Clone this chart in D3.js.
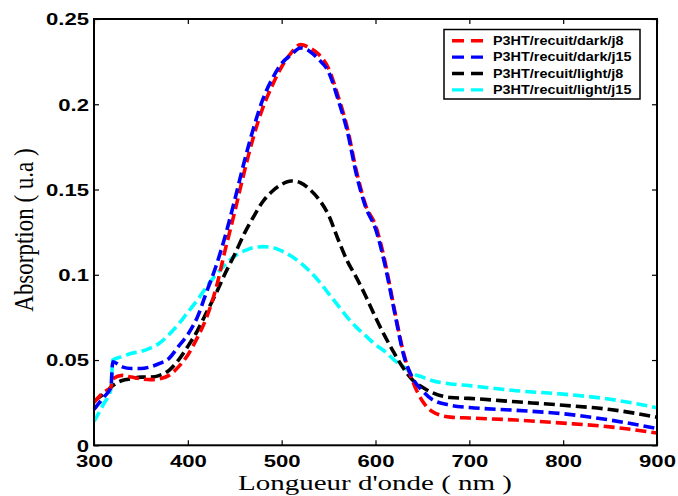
<!DOCTYPE html>
<html>
<head>
<meta charset="utf-8">
<script src="https://cdn.jsdelivr.net/npm/d3@7"></script>
<style>
  html, body { margin: 0; padding: 0; background: #fff; }
  svg { display: block; }
</style>
</head>
<body>
<svg id="chart" width="678" height="496"></svg>
<script>
// Wavelengths (nm) shared by all four spectra
const wavelength = [300, 310, 318, 320, 330, 340, 350, 360, 370, 380, 390, 400, 410, 420, 430, 440, 450, 460, 470, 480, 490, 500, 510, 520, 530, 540, 550, 560, 570, 580, 590, 600, 610, 620, 630, 640, 650, 660, 680, 700, 750, 800, 850, 900];

// Absorbance of each sample (u.a)
const darkJ8 = [0.025, 0.031, 0.034, 0.039, 0.041, 0.040, 0.039, 0.0385, 0.039, 0.041, 0.046, 0.053, 0.063, 0.075, 0.092, 0.115, 0.137, 0.160, 0.181, 0.198, 0.211, 0.222, 0.230, 0.235, 0.233, 0.229, 0.221, 0.205, 0.186, 0.160, 0.140, 0.129, 0.108, 0.080, 0.054, 0.037, 0.026, 0.020, 0.0165, 0.0160, 0.0148, 0.0130, 0.0108, 0.0072];
const darkJ15 = [0.021, 0.028, 0.034, 0.049, 0.046, 0.045, 0.045, 0.046, 0.048, 0.051, 0.058, 0.065, 0.075, 0.090, 0.105, 0.123, 0.144, 0.166, 0.186, 0.203, 0.215, 0.224, 0.229, 0.233, 0.231, 0.226, 0.219, 0.203, 0.184, 0.158, 0.139, 0.127, 0.106, 0.079, 0.053, 0.039, 0.032, 0.027, 0.0235, 0.0222, 0.0205, 0.0185, 0.0148, 0.0098];
const lightJ8 = [0.026, 0.030, 0.034, 0.035, 0.038, 0.039, 0.040, 0.040, 0.041, 0.044, 0.050, 0.058, 0.067, 0.078, 0.089, 0.101, 0.112, 0.124, 0.134, 0.143, 0.149, 0.153, 0.155, 0.154, 0.150, 0.144, 0.135, 0.121, 0.108, 0.098, 0.087, 0.075, 0.064, 0.054, 0.045, 0.038, 0.034, 0.031, 0.028, 0.0275, 0.0255, 0.0235, 0.0210, 0.0165];
const lightJ15 = [0.014, 0.024, 0.033, 0.050, 0.052, 0.054, 0.055, 0.057, 0.060, 0.065, 0.071, 0.078, 0.085, 0.093, 0.100, 0.106, 0.111, 0.114, 0.116, 0.1165, 0.116, 0.114, 0.111, 0.107, 0.102, 0.096, 0.089, 0.082, 0.075, 0.069, 0.064, 0.059, 0.055, 0.050, 0.046, 0.042, 0.040, 0.038, 0.036, 0.035, 0.032, 0.030, 0.027, 0.022];

const seriesNames = ["P3HT/recuit/dark/j8", "P3HT/recuit/dark/j15", "P3HT/recuit/light/j8", "P3HT/recuit/light/j15"];
const seriesColors = ["#ff0000", "#0000ff", "#000000", "#00ffff"];
const seriesValues = [darkJ8, darkJ15, lightJ8, lightJ15];

const xTicks = [300, 400, 500, 600, 700, 800, 900];
const yTicks = [0, 0.05, 0.1, 0.15, 0.2, 0.25];
const yTickLabels = ["0", "0.05", "0.1", "0.15", "0.2", "0.25"];

const plot = { left: 94, right: 657, top: 19, bottom: 445.3 };
const tickFont = "'Liberation Sans', Arial, sans-serif";
const textStretch = 1.38;

const svg = d3.select("#chart");

const x = d3.scaleLinear().domain([300, 900]).range([plot.left, plot.right]);
const y = d3.scaleLinear().domain([0, 0.25]).range([plot.bottom, plot.top]);

// Spectra
const line = d3.line()
  .x(d => x(d[0]))
  .y(d => y(d[1]))
  .curve(d3.curveMonotoneX);

const drawOrder = [3, 2, 0, 1];
drawOrder.forEach(i => {
  const pts = wavelength.map((w, k) => [w, seriesValues[i][k]]);
  svg.append("path")
    .datum(pts)
    .attr("d", line)
    .attr("fill", "none")
    .attr("stroke", seriesColors[i])
    .attr("stroke-width", 3.6)
    .attr("stroke-dasharray", "11,5");
});

// Axes box with inward ticks on all four sides
const tickLen = 5;
const styleAxis = g => {
  g.select(".domain").remove();
  g.selectAll(".tick line").attr("stroke", "#000").attr("stroke-width", 1.2);
};

const xBottom = svg.append("g")
  .attr("transform", `translate(0,${plot.bottom})`)
  .call(d3.axisBottom(x).tickValues(xTicks).tickSize(-tickLen).tickFormat(d3.format("d")));
styleAxis(xBottom);
xBottom.selectAll(".tick text")
  .attr("y", 21.5).attr("dy", 0)
  .attr("fill", "#000")
  .style("font-family", tickFont).style("font-weight", "bold").style("font-size", "16px")
  .attr("transform", `scale(${textStretch},1)`);

const xTop = svg.append("g")
  .attr("transform", `translate(0,${plot.top})`)
  .call(d3.axisTop(x).tickValues(xTicks).tickSize(-tickLen).tickFormat(""));
styleAxis(xTop);

const yLeft = svg.append("g")
  .attr("transform", `translate(${plot.left},0)`)
  .call(d3.axisLeft(y).tickValues(yTicks).tickSize(-tickLen).tickFormat((d, i) => yTickLabels[i]));
styleAxis(yLeft);
yLeft.selectAll(".tick text")
  .attr("x", -5 / textStretch).attr("dy", "0.36em")
  .attr("fill", "#000")
  .style("font-family", tickFont).style("font-weight", "bold").style("font-size", "16px")
  .attr("transform", `scale(${textStretch},1)`);

const yRight = svg.append("g")
  .attr("transform", `translate(${plot.right},0)`)
  .call(d3.axisRight(y).tickValues(yTicks).tickSize(-tickLen).tickFormat(""));
styleAxis(yRight);

svg.append("rect")
  .attr("x", plot.left).attr("y", plot.top)
  .attr("width", plot.right - plot.left).attr("height", plot.bottom - plot.top)
  .attr("fill", "none").attr("stroke", "#000").attr("stroke-width", 2);

// Axis titles
svg.append("text")
  .attr("transform", `translate(375,490) scale(1.38,1)`)
  .attr("text-anchor", "middle")
  .style("font-family", "'Liberation Serif', 'Times New Roman', serif")
  .style("font-size", "21px")
  .text("Longueur d'onde ( nm )");

svg.append("text")
  .attr("transform", `translate(33,230) rotate(-90) scale(1,1.2)`)
  .attr("text-anchor", "middle")
  .style("font-family", "'Liberation Serif', 'Times New Roman', serif")
  .style("font-size", "23px")
  .text("Absorption ( u.a )");

// Legend
const legend = svg.append("g");
legend.append("rect")
  .attr("x", 444).attr("y", 29.5).attr("width", 196).attr("height", 69.5)
  .attr("fill", "#fff").attr("stroke", "#000").attr("stroke-width", 1.5);

seriesNames.forEach((name, i) => {
  const cy = 40.7 + i * 16.4;
  legend.append("line")
    .attr("x1", 452).attr("x2", 484).attr("y1", cy).attr("y2", cy)
    .attr("stroke", seriesColors[i]).attr("stroke-width", 3.4)
    .attr("stroke-dasharray", "12,7");
  legend.append("text")
    .attr("transform", `translate(493,${cy + 4.3}) scale(1.2,1)`)
    .style("font-family", tickFont).style("font-weight", "bold").style("font-size", "12px")
    .text(name);
});
</script>
</body>
</html>
